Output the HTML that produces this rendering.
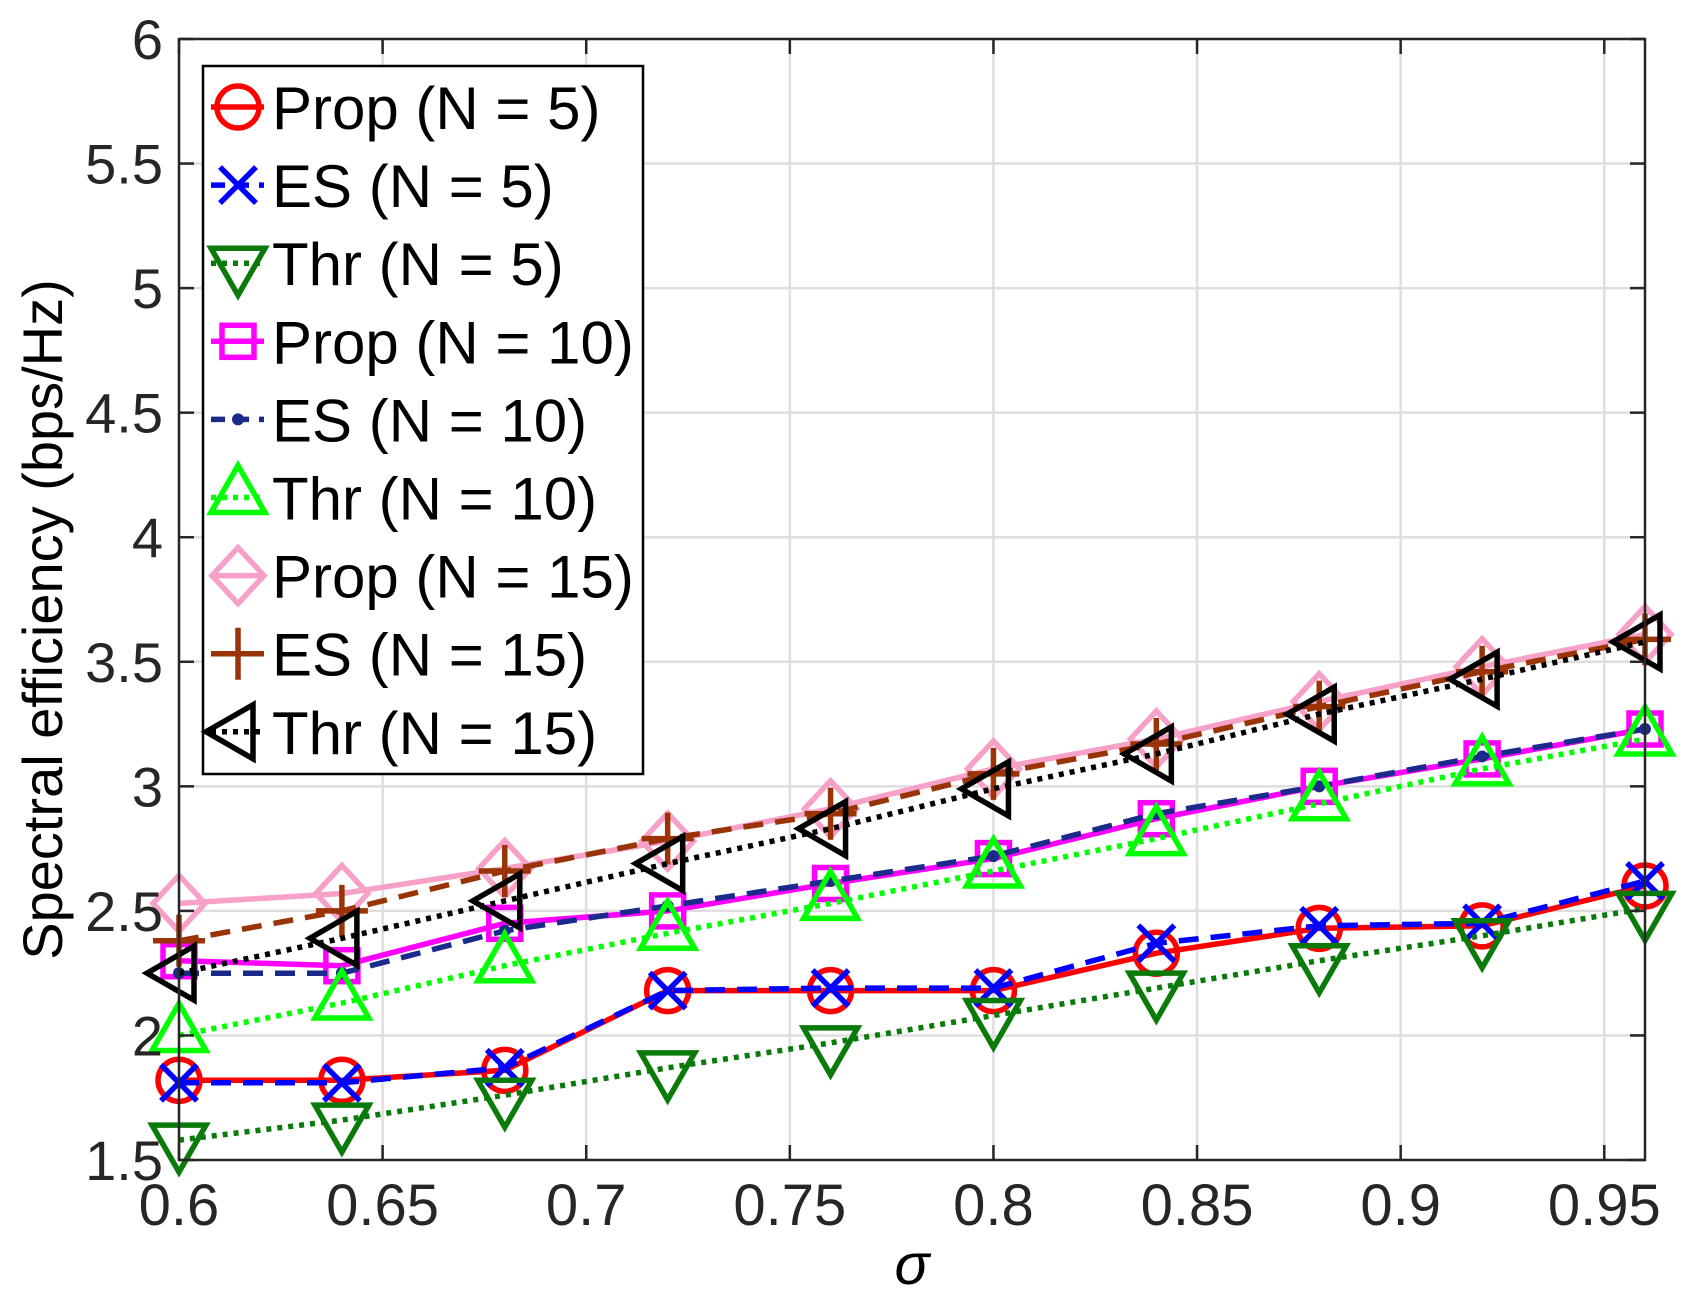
<!DOCTYPE html>
<html><head><meta charset="utf-8"><style>
html,body{margin:0;padding:0;background:#fff}
svg{display:block}
text{font-family:"Liberation Sans",sans-serif}
</style></head><body>
<svg id="chart" width="1691" height="1296" viewBox="0 0 1691 1296" xmlns="http://www.w3.org/2000/svg">
<g id="grid"></g>
<g id="series"></g>
<g id="axes"></g>
<g id="legend"></g>
</svg>
<script>
const sigma = [0.6,0.64,0.68,0.72,0.76,0.8,0.84,0.88,0.92,0.96];
const prop5 = [1.82,1.82,1.86,2.18,2.18,2.18,2.33,2.43,2.44,2.60];
const es5 = [1.81,1.81,1.87,2.18,2.19,2.19,2.37,2.44,2.45,2.62];
const thr5 = [1.58,1.66,1.76,1.87,1.97,2.08,2.19,2.30,2.40,2.51];
const prop10 = [2.30,2.28,2.45,2.50,2.61,2.71,2.87,3.00,3.11,3.23];
const es10 = [2.25,2.25,2.42,2.52,2.62,2.72,2.89,3.00,3.12,3.23];
const thr10 = [2.00,2.13,2.28,2.41,2.53,2.66,2.79,2.93,3.07,3.19];
const prop15 = [2.53,2.57,2.67,2.78,2.91,3.07,3.19,3.34,3.48,3.61];
const es15 = [2.38,2.50,2.66,2.79,2.89,3.05,3.17,3.32,3.46,3.59];
const thr15 = [2.25,2.39,2.54,2.69,2.83,2.99,3.13,3.29,3.43,3.58];
const xTicks = [0.6,0.65,0.7,0.75,0.8,0.85,0.9,0.95];
const xTickLabels = ["0.6","0.65","0.7","0.75","0.8","0.85","0.9","0.95"];
const yTicks = [1.5,2,2.5,3,3.5,4,4.5,5,5.5,6];
const yTickLabels = ["1.5","2","2.5","3","3.5","4","4.5","5","5.5","6"];
const seriesNames = ["Prop (N = 5)","ES (N = 5)","Thr (N = 5)","Prop (N = 10)","ES (N = 10)","Thr (N = 10)","Prop (N = 15)","ES (N = 15)","Thr (N = 15)"];

const L=179,R=1645,T=39,B=1160;
const X0=0.6,X1=0.96,Y0=1.5,Y1=6;
function sx(v){return L+(v-X0)/(X1-X0)*(R-L);}
function sy(v){return B-(v-Y0)/(Y1-Y0)*(B-T);}
const NS="http://www.w3.org/2000/svg";
function mk(tag,attrs,parent){const e=document.createElementNS(NS,tag);for(const k in attrs)e.setAttribute(k,attrs[k]);parent.appendChild(e);return e;}

const styles=[
 {data:prop5,color:"#ff0000",dash:"",marker:"circle",key:"prop-n5"},
 {data:es5,color:"#0000ff",dash:"20 12",marker:"x",key:"es-n5"},
 {data:thr5,color:"#0a7a0a",dash:"5 6",marker:"tridown",key:"thr-n5"},
 {data:prop10,color:"#ff00ff",dash:"",marker:"square",key:"prop-n10"},
 {data:es10,color:"#1a2b8c",dash:"20 12",marker:"point",key:"es-n10"},
 {data:thr10,color:"#00ff00",dash:"5 6",marker:"triup",key:"thr-n10"},
 {data:prop15,color:"#f7a0c8",dash:"",marker:"diamond",key:"prop-n15"},
 {data:es15,color:"#9a3306",dash:"20 12",marker:"plus",key:"es-n15"},
 {data:thr15,color:"#000000",dash:"5 6",marker:"trileft",key:"thr-n15"}
];

function marker(g,type,cx,cy,color){
  const w=5.5;
  const base={fill:"none",stroke:color,"stroke-width":w};
  let e;
  if(type==="circle") e=mk("circle",Object.assign({cx:cx,cy:cy,r:21},base),g);
  else if(type==="square") e=mk("rect",Object.assign({x:cx-16,y:cy-16,width:32,height:32},base),g);
  else if(type==="diamond") e=mk("polygon",Object.assign({points:`${cx},${cy-28} ${cx+26},${cy} ${cx},${cy+28} ${cx-26},${cy}`},base),g);
  else if(type==="x") e=mk("path",Object.assign({d:`M${cx-18},${cy-18}L${cx+18},${cy+18}M${cx-18},${cy+18}L${cx+18},${cy-18}`},base),g);
  else if(type==="plus") e=mk("path",Object.assign({d:`M${cx-26},${cy}L${cx+26},${cy}M${cx},${cy-26}L${cx},${cy+26}`},base),g);
  else if(type==="point") e=mk("circle",{cx:cx,cy:cy,r:6,fill:color},g);
  else if(type==="tridown") e=mk("polygon",Object.assign({points:`${cx-27},${cy-15} ${cx+27},${cy-15} ${cx},${cy+32}`},base),g);
  else if(type==="triup") e=mk("polygon",Object.assign({points:`${cx-27},${cy+15} ${cx+27},${cy+15} ${cx},${cy-32}`},base),g);
  else if(type==="trileft") e=mk("polygon",Object.assign({points:`${cx+15},${cy-27} ${cx+15},${cy+27} ${cx-32},${cy}`},base),g);
  return e;
}

const grid=document.getElementById('grid');
xTicks.forEach((t,i)=>{const l=mk("line",{x1:sx(t),x2:sx(t),y1:T,y2:B,stroke:"#dedede","stroke-width":2.5},grid);

});
yTicks.forEach((t,i)=>{const l=mk("line",{x1:L,x2:R,y1:sy(t),y2:sy(t),stroke:"#dedede","stroke-width":2.5},grid);

});

const sg=document.getElementById('series');
styles.forEach((st,si)=>{
  const g=mk("g",{},sg);
  
  
  const pts=sigma.map((x,i)=>sx(x).toFixed(1)+","+sy(st.data[i]).toFixed(1)).join(" ");
  const line=mk("polyline",{points:pts,fill:"none",stroke:st.color,"stroke-width":5.5,"stroke-dasharray":st.dash},g);
  
  
  sigma.forEach((x,i)=>{const m=marker(g,st.marker,sx(x),sy(st.data[i]),st.color);
    
    });
});

const ax=document.getElementById('axes');
const box=mk("rect",{x:L,y:T,width:R-L,height:B-T,fill:"none",stroke:"#262626","stroke-width":2.5},ax);


xTicks.forEach((t,i)=>{
  mk("line",{x1:sx(t),x2:sx(t),y1:B,y2:B-15,stroke:"#262626","stroke-width":2.5},ax);
  mk("line",{x1:sx(t),x2:sx(t),y1:T,y2:T+15,stroke:"#262626","stroke-width":2.5},ax);
  const tx=mk("text",{x:sx(t),y:1225,"text-anchor":"middle","font-size":58,fill:"#262626"},ax);
  tx.textContent=xTickLabels[i];
  
  
});
yTicks.forEach((t,i)=>{
  mk("line",{x1:L,x2:L+15,y1:sy(t),y2:sy(t),stroke:"#262626","stroke-width":2.5},ax);
  mk("line",{x1:R,x2:R-15,y1:sy(t),y2:sy(t),stroke:"#262626","stroke-width":2.5},ax);
  const tx=mk("text",{x:163,y:sy(t)+20,"text-anchor":"end","font-size":56,fill:"#262626"},ax);
  tx.textContent=yTickLabels[i];
  
  
});
const yt=mk("text",{x:0,y:0,"text-anchor":"middle","font-size":56,fill:"#000",transform:`translate(62,${(T+B)/2+20}) rotate(-90)`},ax);
yt.textContent="Spectral efficiency (bps/Hz)";


const xt=mk("text",{x:912,y:1284,"text-anchor":"middle","font-size":58,"font-style":"italic",fill:"#000","font-family":"Liberation Serif, serif"},ax);
xt.textContent="σ";



const lg=document.getElementById('legend');
const lb=mk("rect",{x:203,y:66,width:440,height:708,fill:"#fff",stroke:"#000","stroke-width":2.5},lg);


styles.forEach((st,i)=>{
  const cy=107+i*78.1;
  const g=mk("g",{},lg);
  
  
  mk("line",{x1:211,x2:264,y1:cy,y2:cy,stroke:st.color,"stroke-width":5.5,"stroke-dasharray":st.dash?(st.dash==="5 6"?"5 6":"14 10"):""},g);
  marker(g,st.marker,238,cy,st.color);
  const tx=mk("text",{x:272,y:cy+22,"font-size":60,fill:"#000"},g);
  tx.textContent=seriesNames[i];
  
  
});
</script>
</body></html>
